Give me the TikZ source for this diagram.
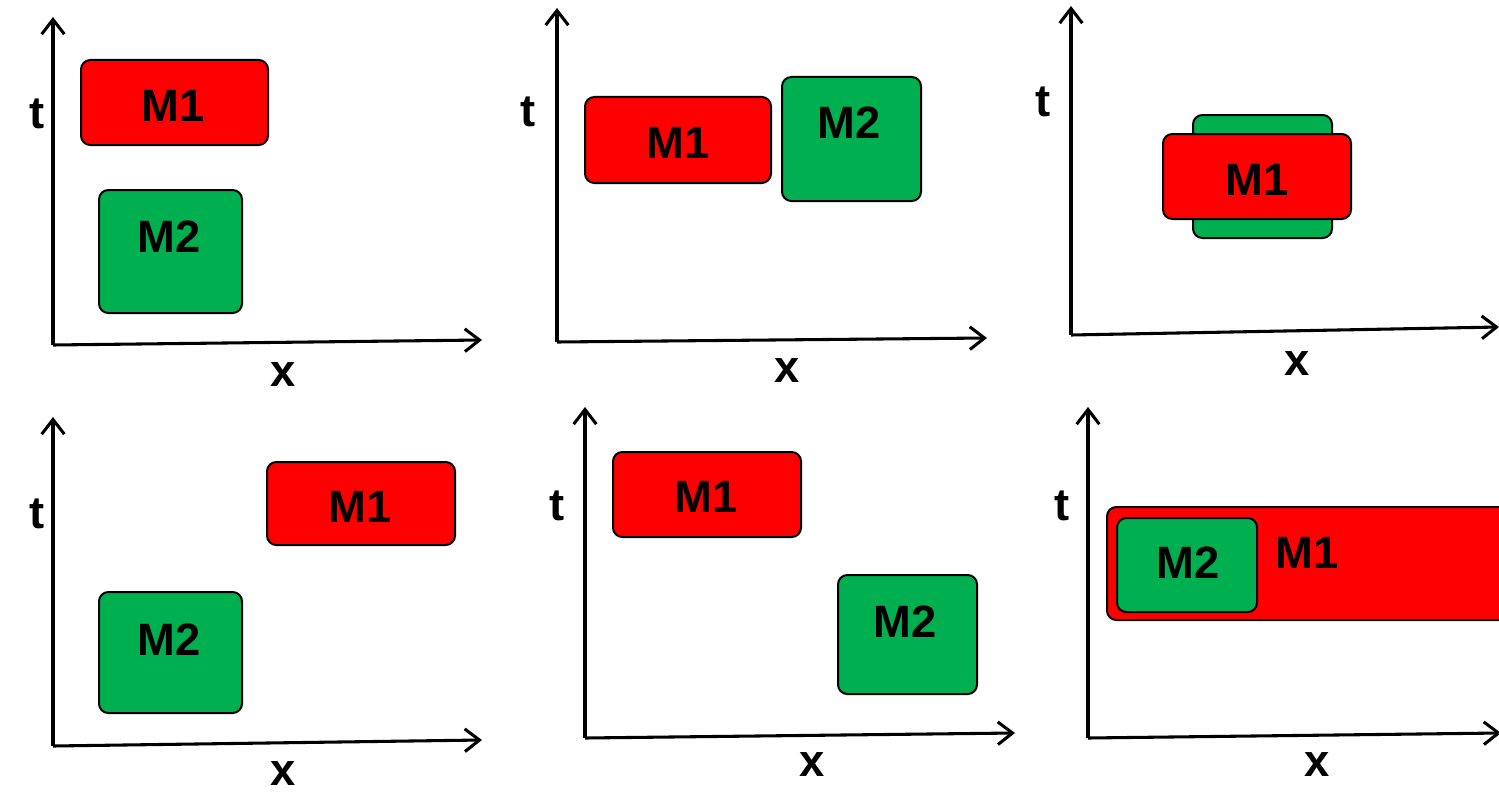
\documentclass[tikz,border=0pt]{standalone}
\usepackage{fontspec}
\setmainfont{Liberation Sans}
\usetikzlibrary{arrows.meta}
\definecolor{mred}{RGB}{255,0,0}
\definecolor{mgreen}{RGB}{0,176,80}
\begin{document}
\begin{tikzpicture}[x=0.75pt,y=-0.75pt,
  axis/.style={line width=2.3pt,-{Straight Barb[length=11pt,width=17pt,line width=2.3pt]}},
  thickaxis/.style={axis,line width=3pt},
  lbl/.style={font=\bfseries\fontsize{34}{34}\selectfont,inner sep=0pt},
  mbox/.style 2 args={draw=black,line width=1.5pt,rounded corners=7pt,inner sep=0pt,
    minimum width=#1*0.75pt,minimum height=#2*0.75pt},
  redbox/.style 2 args={mbox={#1}{#2},fill=mred},
  greenbox/.style 2 args={mbox={#1}{#2},fill=mgreen}]
\useasboundingbox (0,0) rectangle (1499,792);
\clip (0,0) rectangle (1499,792);

% ---- panel 1: M1 above M2
\coordinate (o1) at (53,345);
\coordinate (t1) at (53,17);
\coordinate (x1) at (482,340);
\draw[axis] (o1) -- (t1);
\draw[axis] (o1) -- (x1);
\node[lbl] (tl1) at (37,114) {t};
\node[lbl] (xl1) at (283,375) {x};
\node[redbox={187}{85}] (a1) at (174.5,102.5) {};
\node[lbl] (a1t) at (173,106) {M1};
\node[greenbox={143}{123}] (b1) at (170.5,251.5) {};
\node[lbl] (b1t) at (169,237) {M2};

% ---- panel 2: M1 beside M2
\coordinate (o2) at (557,342);
\coordinate (t2) at (557,8);
\coordinate (x2) at (987,338);
\draw[axis] (o2) -- (t2);
\draw[axis] (o2) -- (x2);
\node[lbl] (tl2) at (528,112) {t};
\node[lbl] (xl2) at (787,371) {x};
\node[redbox={186}{86}] (a2) at (678,140) {};
\node[lbl] (a2t) at (678,143) {M1};
\node[greenbox={139}{124}] (b2) at (851.5,139) {};
\node[lbl] (b2t) at (849,123) {M2};

% ---- panel 3: M1 on top of M2
\coordinate (o3) at (1071,335);
\coordinate (t3) at (1071,6);
\coordinate (x3) at (1499,327);
\draw[thickaxis] (o3) -- (t3);
\draw[axis] (o3) -- (x3);
\node[lbl] (tl3) at (1043,102) {t};
\node[lbl] (xl3) at (1297,364) {x};
\node[greenbox={139}{123}] (b3) at (1262.5,176.5) {};
\node[redbox={188}{85}] (a3) at (1257,176.5) {};
\node[lbl] (a3t) at (1257,180) {M1};

% ---- panel 4: M1 right and above M2
\coordinate (o4) at (53,746);
\coordinate (t4) at (53,417);
\coordinate (x4) at (482,740);
\draw[thickaxis] (o4) -- (t4);
\draw[axis] (o4) -- (x4);
\node[lbl] (tl4) at (37,514) {t};
\node[lbl] (xl4) at (283,774) {x};
\node[redbox={188}{83}] (a4) at (361,503.5) {};
\node[lbl] (a4t) at (360,507) {M1};
\node[greenbox={143}{121}] (b4) at (170.5,652.5) {};
\node[lbl] (b4t) at (169,640) {M2};

% ---- panel 5: M1 left and above M2
\coordinate (o5) at (585,738);
\coordinate (t5) at (585,407);
\coordinate (x5) at (1015,733);
\draw[thickaxis] (o5) -- (t5);
\draw[axis] (o5) -- (x5);
\node[lbl] (tl5) at (557,506) {t};
\node[lbl] (xl5) at (812,765) {x};
\node[redbox={188}{85}] (a5) at (707,494.5) {};
\node[lbl] (a5t) at (706,497) {M1};
\node[greenbox={139}{119}] (b5) at (907.5,634.5) {};
\node[lbl] (b5t) at (905,622) {M2};

% ---- panel 6: M2 inside M1
\coordinate (o6) at (1088,738);
\coordinate (t6) at (1088,407);
\coordinate (x6) at (1501,733);
\draw[thickaxis] (o6) -- (t6);
\draw[axis] (o6) -- (x6);
\node[lbl] (tl6) at (1062,506) {t};
\node[lbl] (xl6) at (1317,765) {x};
\node[redbox={420}{113}] (a6) at (1317,563.5) {};
\node[lbl] (a6t) at (1307,553) {M1};
\node[greenbox={140}{94}] (b6) at (1187,565) {};
\node[lbl] (b6t) at (1188,563) {M2};
\end{tikzpicture}
\end{document}
